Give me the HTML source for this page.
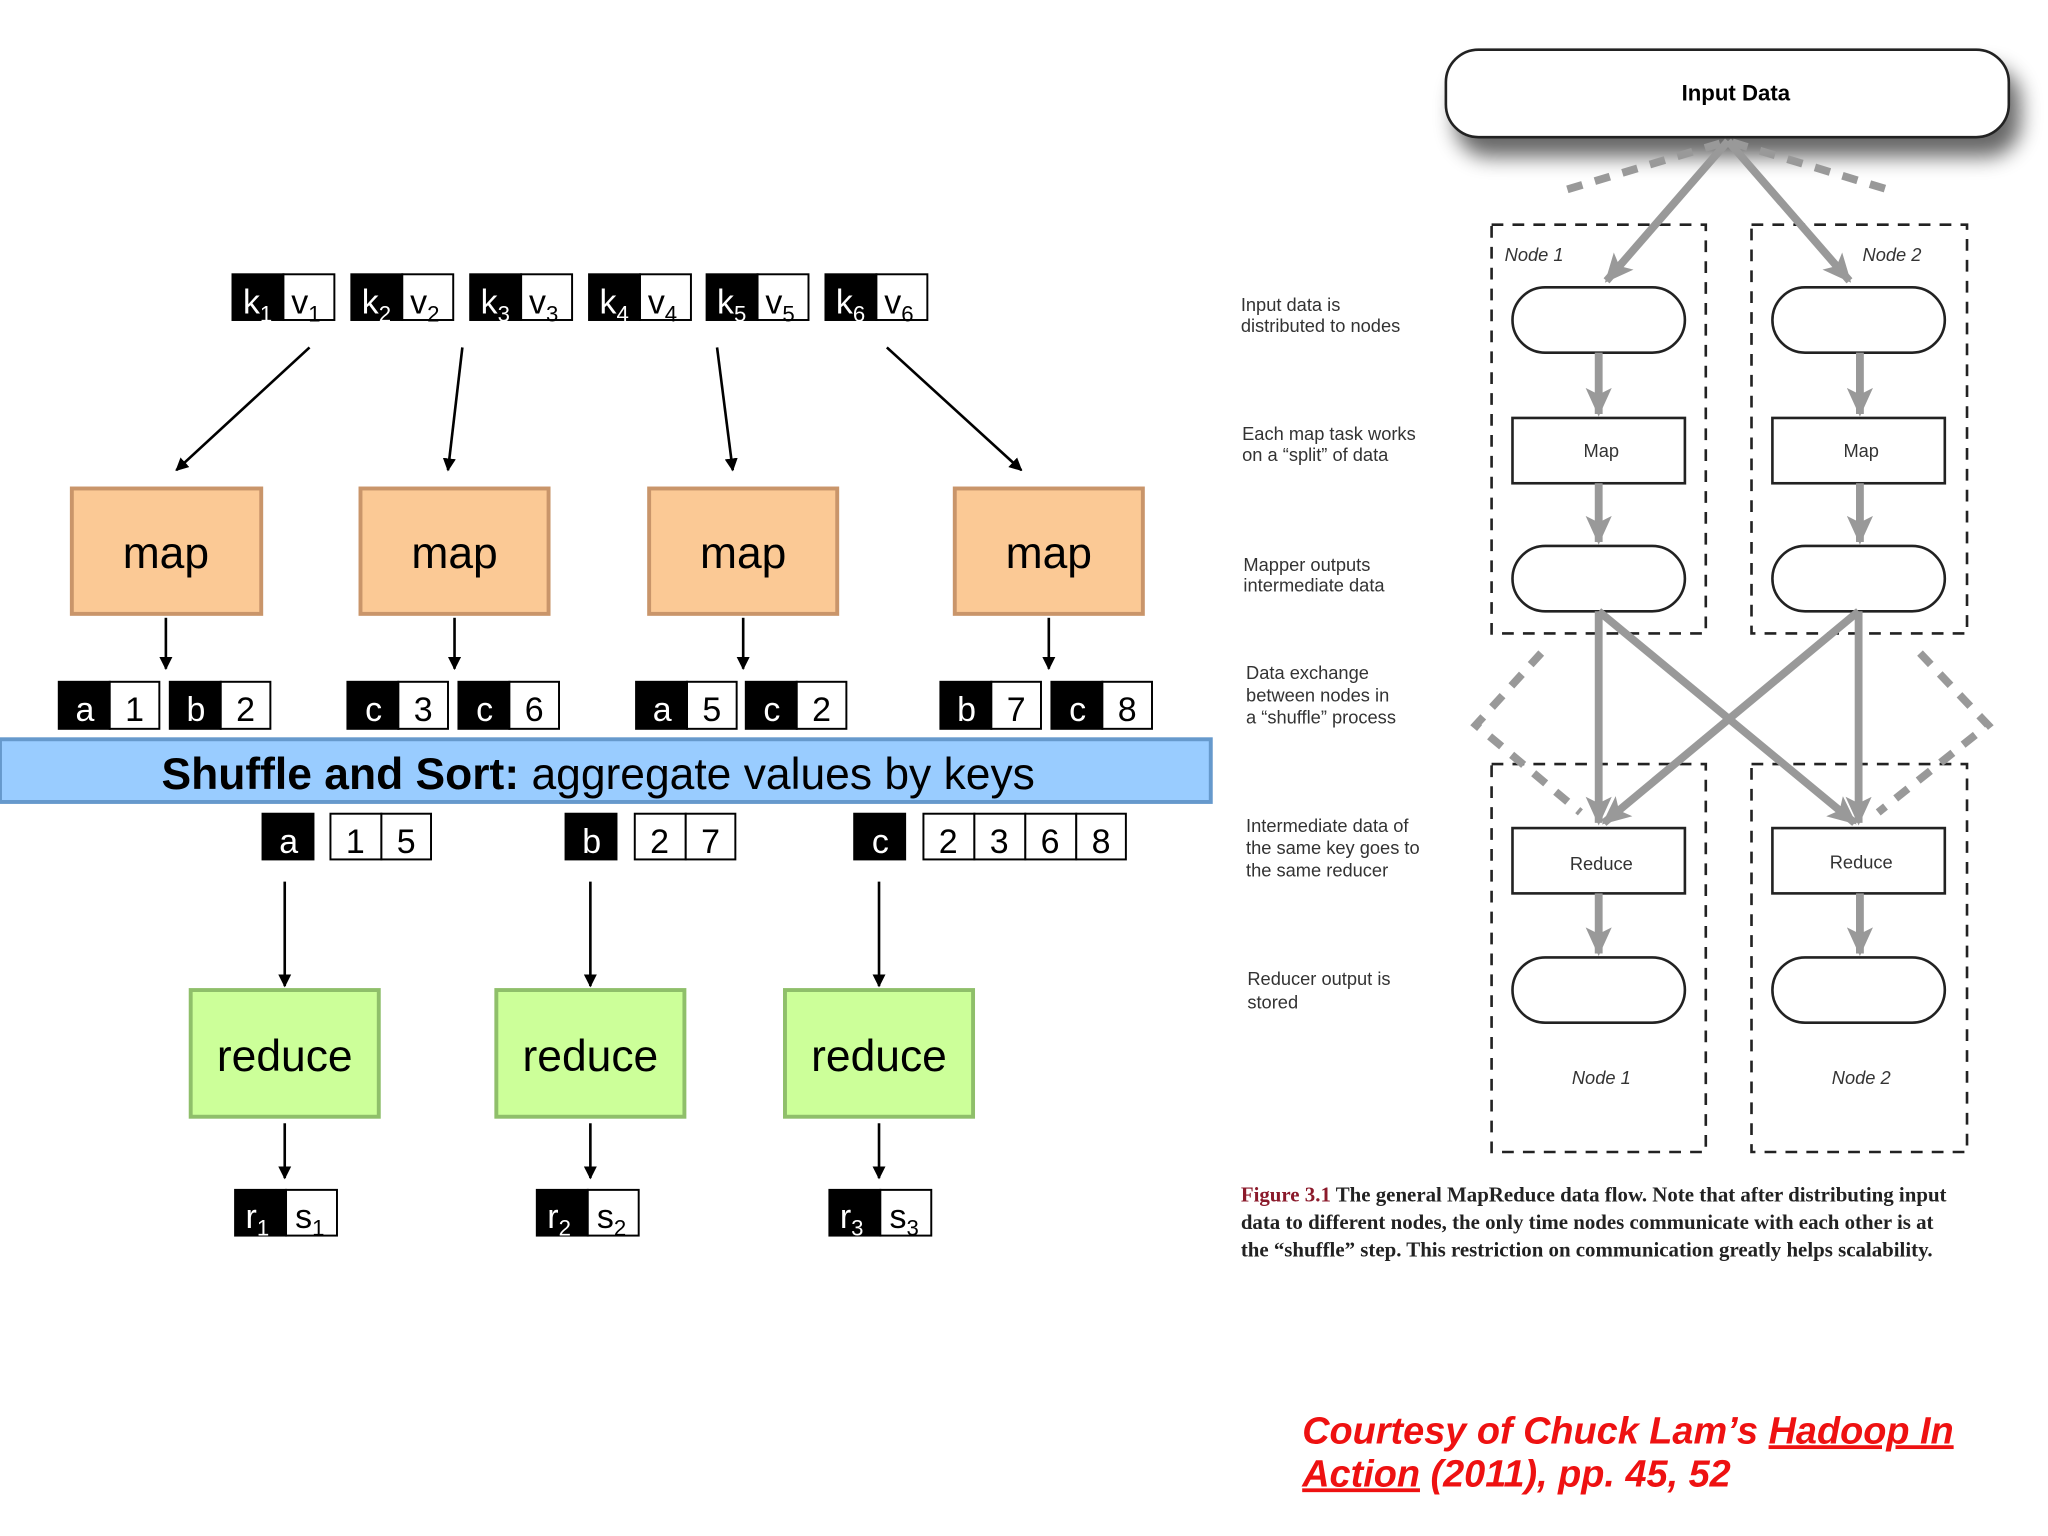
<!DOCTYPE html>
<html><head><meta charset="utf-8"><style>html,body{margin:0;padding:0;background:#fff}svg{display:block}</style></head>
<body>
<svg width="2048" height="1536" viewBox="0 0 1568 1176" xmlns="http://www.w3.org/2000/svg" font-family="Liberation Sans, sans-serif">
<defs>
<marker id="ab" markerWidth="10" markerHeight="10" refX="9" refY="5" orient="auto" markerUnits="userSpaceOnUse"><path d="M0,0 L10,5 L0,10 z" fill="#000"/></marker>
<marker id="ag" markerWidth="22" markerHeight="20" refX="20" refY="10" orient="auto" markerUnits="userSpaceOnUse"><path d="M0,0 L22,10 L0,20 L5,10 z" fill="#999"/></marker>
<filter id="sh" x="-10%" y="-30%" width="125%" height="200%"><feGaussianBlur in="SourceAlpha" stdDeviation="8"/><feOffset dx="8" dy="14"/><feComponentTransfer><feFuncA type="linear" slope="0.6"/></feComponentTransfer><feMerge><feMergeNode/><feMergeNode in="SourceGraphic"/></feMerge></filter>
</defs>
<g font-size="26">
<!-- input pairs -->
<g id="p">
</g>
<g stroke="#000" stroke-width="1.5">
<rect x="178" y="210" width="39" height="35" fill="#000"/><rect x="217" y="210" width="39" height="35" fill="#fff"/>
<rect x="269" y="210" width="39" height="35" fill="#000"/><rect x="308" y="210" width="39" height="35" fill="#fff"/>
<rect x="360" y="210" width="39" height="35" fill="#000"/><rect x="399" y="210" width="39" height="35" fill="#fff"/>
<rect x="451" y="210" width="39" height="35" fill="#000"/><rect x="490" y="210" width="39" height="35" fill="#fff"/>
<rect x="541" y="210" width="39" height="35" fill="#000"/><rect x="580" y="210" width="39" height="35" fill="#fff"/>
<rect x="632" y="210" width="39" height="35" fill="#000"/><rect x="671" y="210" width="39" height="35" fill="#fff"/>
</g>
<g>
<text x="186" y="240" fill="#fff">k<tspan font-size="17" dy="6">1</tspan></text><text x="223" y="240">v<tspan font-size="17" dy="6">1</tspan></text>
<text x="277" y="240" fill="#fff">k<tspan font-size="17" dy="6">2</tspan></text><text x="314" y="240">v<tspan font-size="17" dy="6">2</tspan></text>
<text x="368" y="240" fill="#fff">k<tspan font-size="17" dy="6">3</tspan></text><text x="405" y="240">v<tspan font-size="17" dy="6">3</tspan></text>
<text x="459" y="240" fill="#fff">k<tspan font-size="17" dy="6">4</tspan></text><text x="496" y="240">v<tspan font-size="17" dy="6">4</tspan></text>
<text x="549" y="240" fill="#fff">k<tspan font-size="17" dy="6">5</tspan></text><text x="586" y="240">v<tspan font-size="17" dy="6">5</tspan></text>
<text x="640" y="240" fill="#fff">k<tspan font-size="17" dy="6">6</tspan></text><text x="677" y="240">v<tspan font-size="17" dy="6">6</tspan></text>
</g>
<!-- arrows -->
<g stroke="#000" stroke-width="2" marker-end="url(#ab)">
<line x1="237" y1="266" x2="135" y2="360"/><line x1="354" y1="266" x2="343" y2="360"/><line x1="549" y1="266" x2="561" y2="360"/><line x1="679" y1="266" x2="782" y2="360"/>
<line x1="127" y1="473" x2="127" y2="512"/><line x1="348" y1="473" x2="348" y2="512"/><line x1="569" y1="473" x2="569" y2="512"/><line x1="803" y1="473" x2="803" y2="512"/>
<line x1="218" y1="675" x2="218" y2="755"/><line x1="452" y1="675" x2="452" y2="755"/><line x1="673" y1="675" x2="673" y2="755"/>
<line x1="218" y1="860" x2="218" y2="902"/><line x1="452" y1="860" x2="452" y2="902"/><line x1="673" y1="860" x2="673" y2="902"/>
</g>
<!-- maps -->
<g fill="#fbc995" stroke="#c9956a" stroke-width="3">
<rect x="55" y="374" width="145" height="96"/><rect x="276" y="374" width="144" height="96"/><rect x="497" y="374" width="144" height="96"/><rect x="731" y="374" width="144" height="96"/>
</g>
<g font-size="34" text-anchor="middle"><text x="127" y="435">map</text><text x="348" y="435">map</text><text x="569" y="435">map</text><text x="803" y="435">map</text></g>
<!-- map output pairs -->
<g stroke="#000" stroke-width="1.5">
<rect x="45" y="522" width="39" height="36" fill="#000"/><rect x="84" y="522" width="38" height="36" fill="#fff"/>
<rect x="130" y="522" width="39" height="36" fill="#000"/><rect x="169" y="522" width="38" height="36" fill="#fff"/>
<rect x="266" y="522" width="39" height="36" fill="#000"/><rect x="305" y="522" width="38" height="36" fill="#fff"/>
<rect x="351" y="522" width="39" height="36" fill="#000"/><rect x="390" y="522" width="38" height="36" fill="#fff"/>
<rect x="487" y="522" width="39" height="36" fill="#000"/><rect x="526" y="522" width="38" height="36" fill="#fff"/>
<rect x="571" y="522" width="39" height="36" fill="#000"/><rect x="610" y="522" width="38" height="36" fill="#fff"/>
<rect x="720" y="522" width="39" height="36" fill="#000"/><rect x="759" y="522" width="38" height="36" fill="#fff"/>
<rect x="805" y="522" width="39" height="36" fill="#000"/><rect x="844" y="522" width="38" height="36" fill="#fff"/>
</g>
<g text-anchor="middle">
<text x="65" y="552" fill="#fff">a</text><text x="103" y="552">1</text><text x="150" y="552" fill="#fff">b</text><text x="188" y="552">2</text>
<text x="286" y="552" fill="#fff">c</text><text x="324" y="552">3</text><text x="371" y="552" fill="#fff">c</text><text x="409" y="552">6</text>
<text x="507" y="552" fill="#fff">a</text><text x="545" y="552">5</text><text x="591" y="552" fill="#fff">c</text><text x="629" y="552">2</text>
<text x="740" y="552" fill="#fff">b</text><text x="778" y="552">7</text><text x="825" y="552" fill="#fff">c</text><text x="863" y="552">8</text>
</g>
<!-- shuffle bar -->
<rect x="0" y="566" width="927" height="48" fill="#99ccff" stroke="#6699cc" stroke-width="3"/>
<text x="458" y="604" font-size="34" text-anchor="middle"><tspan font-weight="bold">Shuffle and Sort:</tspan> aggregate values by keys</text>
<!-- key groups -->
<g stroke="#000" stroke-width="1.5" fill="#fff">
<rect x="201" y="623" width="39" height="35" fill="#000"/><rect x="253" y="623" width="39" height="35"/><rect x="292" y="623" width="38" height="35"/>
<rect x="433" y="623" width="39" height="35" fill="#000"/><rect x="486" y="623" width="39" height="35"/><rect x="525" y="623" width="38" height="35"/>
<rect x="654" y="623" width="39" height="35" fill="#000"/><rect x="707" y="623" width="39" height="35"/><rect x="746" y="623" width="39" height="35"/><rect x="785" y="623" width="39" height="35"/><rect x="824" y="623" width="38" height="35"/>
</g>
<g text-anchor="middle">
<text x="221" y="653" fill="#fff">a</text><text x="272" y="653">1</text><text x="311" y="653">5</text>
<text x="453" y="653" fill="#fff">b</text><text x="505" y="653">2</text><text x="544" y="653">7</text>
<text x="674" y="653" fill="#fff">c</text><text x="726" y="653">2</text><text x="765" y="653">3</text><text x="804" y="653">6</text><text x="843" y="653">8</text>
</g>
<!-- reduce -->
<g fill="#ccff99" stroke="#8fbf6a" stroke-width="3">
<rect x="146" y="758" width="144" height="97"/><rect x="380" y="758" width="144" height="97"/><rect x="601" y="758" width="144" height="97"/>
</g>
<g font-size="34" text-anchor="middle"><text x="218" y="820">reduce</text><text x="452" y="820">reduce</text><text x="673" y="820">reduce</text></g>
<g stroke="#000" stroke-width="1.5">
<rect x="180" y="911" width="39" height="35" fill="#000"/><rect x="219" y="911" width="39" height="35" fill="#fff"/>
<rect x="411" y="911" width="39" height="35" fill="#000"/><rect x="450" y="911" width="39" height="35" fill="#fff"/>
<rect x="635" y="911" width="39" height="35" fill="#000"/><rect x="674" y="911" width="39" height="35" fill="#fff"/>
</g>
<text x="188" y="940" fill="#fff">r<tspan font-size="17" dy="6">1</tspan></text><text x="226" y="940">s<tspan font-size="17" dy="6">1</tspan></text>
<text x="419" y="940" fill="#fff">r<tspan font-size="17" dy="6">2</tspan></text><text x="457" y="940">s<tspan font-size="17" dy="6">2</tspan></text>
<text x="643" y="940" fill="#fff">r<tspan font-size="17" dy="6">3</tspan></text><text x="681" y="940">s<tspan font-size="17" dy="6">3</tspan></text>
</g>

<!-- RIGHT FIGURE -->
<rect x="1107" y="38" width="431" height="67" rx="25" fill="#fff" stroke="#222" stroke-width="2" filter="url(#sh)"/>
<text x="1329" y="77" font-size="17" font-weight="bold" text-anchor="middle">Input Data</text>
<g fill="none" stroke="#222" stroke-width="2" stroke-dasharray="9,7">
<rect x="1142" y="172" width="164" height="313"/><rect x="1341" y="172" width="165" height="313"/>
<rect x="1142" y="585" width="164" height="297"/><rect x="1341" y="585" width="165" height="297"/>
</g>
<g fill="#fff" stroke="#222" stroke-width="2">
<rect x="1158" y="220" width="132" height="50" rx="25"/><rect x="1357" y="220" width="132" height="50" rx="25"/>
<rect x="1158" y="320" width="132" height="50"/><rect x="1357" y="320" width="132" height="50"/>
<rect x="1158" y="418" width="132" height="50" rx="25"/><rect x="1357" y="418" width="132" height="50" rx="25"/>
<rect x="1158" y="634" width="132" height="50"/><rect x="1357" y="634" width="132" height="50"/>
<rect x="1158" y="733" width="132" height="50" rx="25"/><rect x="1357" y="733" width="132" height="50" rx="25"/>
</g>
<g stroke="#999" stroke-width="6" fill="none">
<path d="M1200,145 L1323,108 L1445,145" stroke-dasharray="12,10"/>
<path d="M1180,500 L1130,555 L1210,622" stroke-dasharray="12,10"/>
<path d="M1470,500 L1522,555 L1438,622" stroke-dasharray="12,10"/>
</g>
<g stroke="#999" stroke-width="6" marker-end="url(#ag)">
<line x1="1323" y1="108" x2="1230" y2="215"/><line x1="1323" y1="108" x2="1416" y2="215"/>
<line x1="1224" y1="270" x2="1224" y2="317"/><line x1="1424" y1="270" x2="1424" y2="317"/>
<line x1="1224" y1="370" x2="1224" y2="415"/><line x1="1424" y1="370" x2="1424" y2="415"/>
<line x1="1224" y1="468" x2="1224" y2="630"/><line x1="1224" y1="468" x2="1420" y2="630"/>
<line x1="1423" y1="468" x2="1228" y2="630"/><line x1="1423" y1="468" x2="1423" y2="630"/>
<line x1="1224" y1="684" x2="1224" y2="730"/><line x1="1424" y1="684" x2="1424" y2="730"/>
</g>
<g font-size="14" fill="#333">
<text x="1152" y="200" font-style="italic">Node 1</text><text x="1426" y="200" font-style="italic">Node 2</text>
<text x="1226" y="350" text-anchor="middle">Map</text><text x="1425" y="350" text-anchor="middle">Map</text>
<text x="1226" y="666" text-anchor="middle">Reduce</text><text x="1425" y="665" text-anchor="middle">Reduce</text>
<text x="1226" y="830" text-anchor="middle" font-style="italic">Node 1</text><text x="1425" y="830" text-anchor="middle" font-style="italic">Node 2</text>
</g>
<g font-size="14" fill="#333">
<text x="950" y="238">Input data is</text><text x="950" y="254">distributed to nodes</text>
<text x="951" y="337">Each map task works</text><text x="951" y="353">on a “split” of data</text>
<text x="952" y="437">Mapper outputs</text><text x="952" y="453">intermediate data</text>
<text x="954" y="520">Data exchange</text><text x="954" y="537">between nodes in</text><text x="954" y="554">a “shuffle” process</text>
<text x="954" y="637">Intermediate data of</text><text x="954" y="654">the same key goes to</text><text x="954" y="671">the same reducer</text>
<text x="955" y="754">Reducer output is</text><text x="955" y="772">stored</text>
</g>
<g font-family="Liberation Serif, serif" font-size="16" font-weight="bold" fill="#222">
<text x="950" y="920"><tspan fill="#8b1a2b">Figure 3.1</tspan>   The general MapReduce data flow. Note that after distributing input</text>
<text x="950" y="941">data to different nodes, the only time nodes communicate with each other is at</text>
<text x="950" y="962">the “shuffle” step. This restriction on communication greatly helps scalability.</text>
</g>
<g font-size="29" font-weight="bold" font-style="italic" fill="#ee1111">
<text x="997" y="1105">Courtesy of Chuck Lam’s <tspan text-decoration="underline">Hadoop In</tspan></text>
<text x="997" y="1138"><tspan text-decoration="underline">Action</tspan> (2011), pp. 45, 52</text>
</g>
</svg>
</body></html>
